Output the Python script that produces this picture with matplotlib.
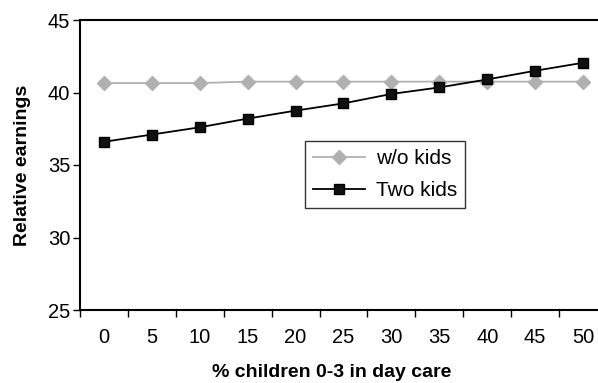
import numpy as np
import matplotlib as mpl
mpl.use('Agg')
from matplotlib import pyplot as plt

plt.rcParams['font.family'] = ['Liberation Sans', 'DejaVu Sans']

categories = ['0', '5', '10', '15', '20', '25', '30', '35', '40', '45', '50']
wo_kids = [40.65, 40.65, 40.65, 40.75, 40.75, 40.75, 40.75, 40.75, 40.75, 40.75, 40.75]
two_kids = [36.6, 37.1, 37.6, 38.2, 38.75, 39.25, 39.9, 40.35, 40.9, 41.5, 42.05]

fig = plt.figure(figsize=(5.98, 3.83), dpi=100)
# plot area runs a bit past the right edge, as in the original
ax = fig.add_axes([80/598, 1 - 310/383, 527/598, 290/383])

x = np.arange(len(categories))
ax.plot(x, wo_kids, color='#b0b0b0', marker='D', markersize=7.5,
        linewidth=1.3, label='w/o kids', clip_on=False)
ax.plot(x, two_kids, color='black', marker='s', markersize=7.2,
        markerfacecolor='#111111', linewidth=1.3, label='Two kids', clip_on=False)

ax.set_xlim(-0.5, len(categories) - 0.5)
ax.set_ylim(25, 45)
ax.set_yticks([25, 30, 35, 40, 45])
ax.set_xticks(x)
ax.set_xticklabels(categories)
ax.set_xticks(np.arange(-0.5, len(categories)), minor=True)
ax.tick_params(axis='x', which='major', length=0, pad=13, labelsize=14.5)
ax.tick_params(axis='x', which='minor', length=5, width=1)
ax.tick_params(axis='y', length=5, width=1, pad=2, labelsize=14.5)

for s in ['left', 'bottom', 'top']:
    ax.spines[s].set_linewidth(1.5)
ax.spines['right'].set_visible(False)

ax.set_xlabel('% children 0-3 in day care', fontsize=14, fontweight='bold')
ax.xaxis.set_label_coords(252/527, -0.185)
ax.set_ylabel('Relative earnings', fontsize=14, fontweight='bold', labelpad=12)

leg = ax.legend(loc='upper left', bbox_to_anchor=(225/527, 1 - 121/290),
                fontsize=15, frameon=True, fancybox=False, edgecolor='black',
                borderaxespad=0, handlelength=2.5, handletextpad=0.5,
                borderpad=0.4, labelspacing=0.6)
leg.get_frame().set_linewidth(1)

plt.savefig('out.png', dpi=100)
